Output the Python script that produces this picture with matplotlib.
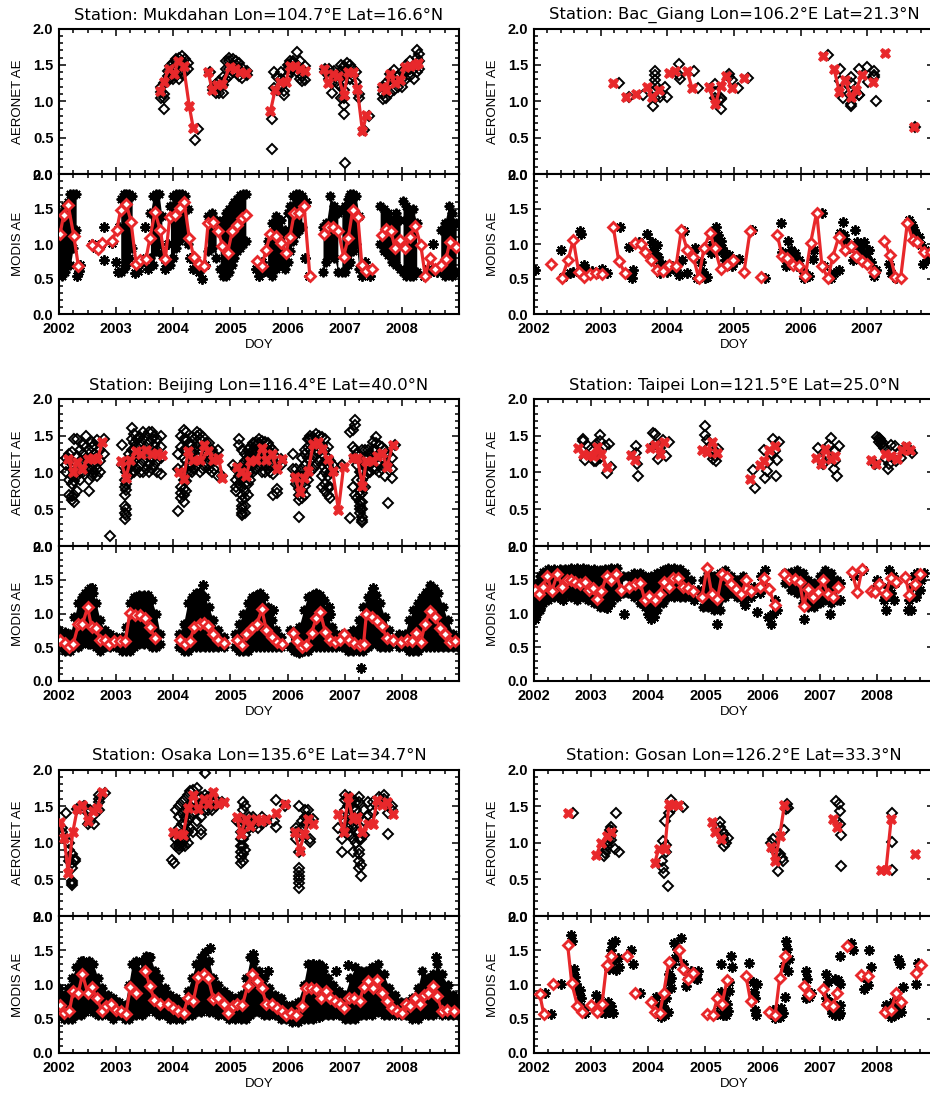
import numpy as np
import matplotlib
matplotlib.use("Agg")
import matplotlib.pyplot as plt
from matplotlib.ticker import MultipleLocator, AutoMinorLocator, FormatStrFormatter

plt.rcParams['font.family'] = ['Liberation Sans', 'DejaVu Sans']

# ---------------------------------------------------------------- stations
STATIONS = ["Mukdahan", "Bac_Giang", "Beijing", "Taipei", "Osaka", "Gosan"]
LONS = [104.7, 106.2, 116.4, 121.5, 135.6, 126.2]
LATS = [16.6, 21.3, 40.0, 25.0, 34.7, 33.3]
XMAX = [2009, 2008, 2009, 2009, 2009, 2009]
YEAR_TICKS = [2002, 2003, 2004, 2005, 2006, 2007, 2008]
Y_TICKS = [0.0, 0.5, 1.0, 1.5, 2.0]

# ---------------------------------------------------------------- Mukdahan
MUK_AER_PTS = [
    (2003.78, [1.05, 1.13, 1.20]), (2003.84, [0.90, 1.05, 1.10, 1.25]), (2003.90, [1.28, 1.35, 1.42]),
    (2003.95, [1.32, 1.40, 1.48]), (2004.00, [1.30, 1.38, 1.46, 1.52]), (2004.05, [1.35, 1.45, 1.55, 1.58]),
    (2004.10, [1.30, 1.40, 1.50, 1.60]), (2004.15, [1.38, 1.48, 1.56, 1.62]), (2004.20, [1.40, 1.50, 1.58]),
    (2004.25, [1.45, 1.52]), (2004.38, [0.47]), (2004.43, [0.62]),
    (2004.65, [1.40]), (2004.70, [1.15, 1.20]), (2004.75, [1.12, 1.18, 1.24]), (2004.80, [1.12, 1.20, 1.28]),
    (2004.87, [1.11, 1.22, 1.34]), (2004.93, [1.30, 1.45, 1.55]), (2004.98, [1.35, 1.45, 1.55, 1.60]),
    (2005.04, [1.40, 1.50, 1.58]), (2005.10, [1.40, 1.50, 1.55]), (2005.15, [1.35, 1.45, 1.52]),
    (2005.21, [1.32, 1.40, 1.46]), (2005.29, [1.36, 1.42]),
    (2005.72, [0.34, 0.76]), (2005.77, [1.18, 1.40]), (2005.82, [1.16, 1.33]), (2005.88, [1.20, 1.30, 1.40]),
    (2005.94, [1.08, 1.14, 1.25]), (2006.00, [1.35, 1.45, 1.50]), (2006.05, [1.40, 1.50, 1.55]),
    (2006.10, [1.45, 1.52, 1.56]), (2006.16, [1.40, 1.50, 1.68]), (2006.21, [1.30, 1.45, 1.55]),
    (2006.26, [1.28, 1.35, 1.45]), (2006.31, [1.29, 1.48]),
    (2006.65, [1.40, 1.45]), (2006.72, [1.30, 1.45]), (2006.77, [1.12, 1.25]), (2006.82, [1.35, 1.42]),
    (2006.88, [1.24, 1.36]), (2006.94, [1.05, 1.20, 1.32, 1.42, 1.50]),
    (2006.99, [0.82, 0.95, 1.05, 1.16, 1.27, 1.38, 1.48]), (2007.00, [0.15]), (2007.04, [1.36, 1.45, 1.52]),
    (2007.09, [1.30, 1.40, 1.50]), (2007.14, [1.35, 1.45]), (2007.19, [1.26, 1.40]), (2007.25, [1.05, 1.10]),
    (2007.33, [0.60]), (2007.42, [0.80]),
    (2007.67, [1.03, 1.10, 1.20]), (2007.72, [1.05, 1.25]), (2007.79, [1.12, 1.30, 1.38]),
    (2007.87, [1.15, 1.30, 1.43]), (2007.94, [1.20, 1.35]), (2008.01, [1.20, 1.30, 1.40]),
    (2008.08, [1.30, 1.40, 1.50]), (2008.15, [1.35, 1.45, 1.55]), (2008.21, [1.30, 1.45, 1.50]),
    (2008.26, [1.40, 1.60, 1.70]), (2008.30, [1.45, 1.55, 1.65]),
]
MUK_AER_MEAN = [
    [(2003.76, 1.14), (2003.83, 1.27), (2003.93, 1.45), (2004.01, 1.37), (2004.09, 1.55), (2004.18, 1.48),
     (2004.28, 0.93), (2004.35, 0.63)],
    [(2004.61, 1.40), (2004.68, 1.16), (2004.76, 1.23), (2004.86, 1.24), (2004.99, 1.47), (2005.08, 1.45),
     (2005.17, 1.40), (2005.28, 1.39)],
    [(2005.70, 0.86), (2005.78, 1.15), (2005.86, 1.27), (2005.97, 1.27), (2006.04, 1.48), (2006.13, 1.49),
     (2006.22, 1.44), (2006.31, 1.41)],
    [(2006.63, 1.45), (2006.71, 1.25), (2006.80, 1.38), (2006.89, 1.35), (2006.98, 1.08), (2007.06, 1.40),
     (2007.15, 1.40), (2007.22, 1.17), (2007.31, 0.59), (2007.38, 0.81)],
    [(2007.65, 1.19), (2007.72, 1.15), (2007.79, 1.37), (2007.88, 1.25), (2007.97, 1.29), (2008.06, 1.47),
     (2008.14, 1.48), (2008.23, 1.50), (2008.29, 1.52)],
]
MUK_MOD_BLOBS = [
    [(2002.00, 0.60, 1.40), (2002.05, 0.55, 1.45), (2002.10, 0.60, 1.55), (2002.15, 0.70, 1.60),
     (2002.20, 0.70, 1.72), (2002.25, 0.95, 1.72), (2002.30, 1.20, 1.72)],
    [(2003.08, 0.60, 1.65), (2003.13, 0.65, 1.72), (2003.18, 0.70, 1.72), (2003.23, 0.80, 1.72),
     (2003.28, 0.95, 1.68)],
    [(2003.60, 0.80, 1.45), (2003.65, 0.70, 1.68), (2003.70, 0.90, 1.72), (2003.75, 1.00, 1.72),
     (2003.80, 0.85, 1.40)],
    [(2003.95, 0.70, 1.55), (2004.00, 0.80, 1.68), (2004.05, 0.95, 1.72), (2004.10, 1.05, 1.72),
     (2004.15, 1.15, 1.72), (2004.20, 1.10, 1.68), (2004.25, 1.00, 1.50)],
    [(2004.60, 0.90, 1.40), (2004.68, 0.95, 1.45), (2004.75, 0.80, 1.35)],
    [(2004.82, 0.65, 1.25), (2004.87, 0.55, 1.35), (2004.92, 0.55, 1.45), (2004.97, 0.60, 1.50),
     (2005.02, 0.70, 1.55), (2005.07, 0.80, 1.60), (2005.12, 0.90, 1.65), (2005.17, 0.95, 1.70),
     (2005.22, 1.00, 1.72), (2005.27, 1.05, 1.72)],
    [(2005.65, 0.60, 1.05), (2005.72, 0.55, 1.30), (2005.80, 0.65, 1.40), (2005.88, 0.70, 1.35),
     (2005.95, 0.65, 1.20)],
    [(2006.00, 0.75, 1.45), (2006.05, 0.90, 1.55), (2006.10, 1.05, 1.68), (2006.15, 1.15, 1.72),
     (2006.20, 1.20, 1.72), (2006.25, 1.25, 1.68)],
    [(2006.62, 0.60, 1.25), (2006.68, 0.75, 1.30), (2006.75, 0.85, 1.68), (2006.82, 0.80, 1.55),
     (2006.88, 0.60, 1.45)],
    [(2006.95, 0.60, 1.50), (2007.00, 0.60, 1.55), (2007.05, 0.70, 1.65), (2007.10, 0.75, 1.72),
     (2007.15, 0.90, 1.72), (2007.20, 1.00, 1.68), (2007.25, 0.65, 1.40)],
    [(2007.62, 1.00, 1.55), (2007.68, 0.90, 1.50), (2007.75, 0.85, 1.45), (2007.82, 0.75, 1.35),
     (2007.90, 0.70, 1.45), (2007.97, 0.65, 1.35)],
    [(2008.02, 0.60, 1.62), (2008.08, 0.55, 1.55), (2008.14, 0.55, 1.45), (2008.20, 0.55, 1.50),
     (2008.26, 0.60, 1.30)],
    [(2008.68, 0.60, 1.20), (2008.75, 0.55, 1.30), (2008.82, 0.60, 1.55), (2008.88, 0.55, 1.45),
     (2008.95, 0.60, 1.30)],
]
MUK_MOD_PTS = [
    (2002.32, 0.55), (2002.35, 0.62), (2002.36, 0.70), (2002.57, 1.00), (2002.65, 0.95), (2002.73, 1.00),
    (2002.78, 0.77), (2002.79, 1.25), (2002.93, 1.02), (2003.00, 0.75), (2003.03, 0.60), (2003.05, 1.25),
    (2003.33, 0.58), (2003.38, 0.62), (2003.45, 0.75), (2003.50, 1.25), (2003.52, 0.80), (2003.55, 0.65),
    (2003.85, 0.65), (2003.88, 0.75), (2003.90, 1.00), (2004.30, 0.80), (2004.35, 0.65), (2004.40, 0.75),
    (2004.45, 0.60), (2004.50, 0.50), (2004.55, 0.70), (2005.45, 0.65), (2005.50, 0.55), (2005.55, 0.75),
    (2005.60, 0.62), (2006.30, 0.80), (2006.33, 1.60), (2006.38, 0.55), (2007.30, 0.55), (2007.35, 0.75),
    (2007.40, 0.60), (2007.45, 0.55), (2008.38, 0.55), (2008.45, 0.65), (2008.50, 0.60), (2008.55, 1.00),
    (2008.62, 0.60),
]
MUK_MOD_MEAN = [
    [(2002.02, 1.15), (2002.08, 1.41), (2002.16, 1.56), (2002.26, 1.11), (2002.34, 0.68)],
    [(2002.58, 0.99), (2002.68, 0.93), (2002.75, 1.01)],
    [(2002.93, 1.05), (2003.01, 1.20), (2003.08, 1.49), (2003.18, 1.57), (2003.26, 1.32), (2003.35, 0.71),
     (2003.42, 0.77), (2003.52, 0.78), (2003.59, 1.08), (2003.68, 1.46), (2003.77, 1.20), (2003.86, 0.78),
     (2003.94, 1.39), (2004.03, 1.42), (2004.12, 1.51), (2004.19, 1.60), (2004.28, 1.09), (2004.36, 0.81),
     (2004.45, 0.72), (2004.54, 0.68), (2004.61, 1.30), (2004.70, 1.31), (2004.79, 1.18), (2004.86, 0.97),
     (2004.95, 0.87), (2005.03, 1.18), (2005.12, 1.27), (2005.20, 1.37), (2005.28, 1.41)],
    [(2005.46, 0.76), (2005.55, 0.68), (2005.62, 0.91), (2005.70, 1.14), (2005.80, 1.11), (2005.88, 1.02),
     (2005.97, 0.87), (2006.04, 1.10), (2006.12, 1.45), (2006.20, 1.44), (2006.29, 1.54), (2006.39, 0.54)],
    [(2006.63, 1.15), (2006.70, 1.24), (2006.80, 1.24), (2006.89, 1.18), (2006.98, 0.82), (2007.06, 1.08),
     (2007.14, 1.49), (2007.23, 1.39), (2007.30, 0.70), (2007.38, 0.62), (2007.47, 0.64)],
    [(2007.65, 1.13), (2007.72, 1.22), (2007.81, 1.18), (2007.88, 0.94), (2007.97, 1.06), (2008.06, 0.95),
     (2008.14, 1.10), (2008.23, 1.26), (2008.33, 0.99), (2008.41, 0.54), (2008.49, 0.80), (2008.58, 0.64),
     (2008.68, 0.70), (2008.77, 0.78), (2008.84, 1.03), (2008.95, 0.96)],
]

# ---------------------------------------------------------------- Bac_Giang
BAC_AER_PTS = [
    (2003.28, [1.25]), (2003.42, [1.06]), (2003.64, [1.09]), (2003.78, [0.93]),
    (2003.81, [1.42, 1.36, 1.29, 1.22, 1.15, 1.04]), (2003.89, [1.06]), (2003.96, [1.20]), (2003.99, [1.06]),
    (2004.17, [1.51, 1.36]), (2004.19, [1.31]), (2004.40, [1.41]), (2004.46, [1.18]),
    (2004.72, [1.24, 1.13, 1.05]), (2004.78, [1.02]), (2004.81, [0.89, 1.04, 1.03]), (2004.92, [1.38, 1.33]),
    (2004.97, [1.29]), (2005.06, [1.18]), (2005.21, [1.32]),
    (2006.41, [1.63]), (2006.59, [1.45, 1.28]), (2006.64, [1.04, 1.15]), (2006.76, [1.34, 0.93, 0.96, 1.25]),
    (2006.81, [1.11]), (2006.88, [1.45, 1.08, 1.09]), (2007.00, [1.47]), (2007.01, [1.27]),
    (2007.10, [1.36, 1.42, 1.33]), (2007.13, [1.01]), (2007.72, [0.64]),
]
BAC_AER_MEAN = [
    [(2003.19, 1.25)], [(2003.38, 1.06)], [(2003.53, 1.10)],
    [(2003.69, 1.19), (2003.77, 1.06), (2003.87, 1.15)],
    [(2004.03, 1.39), (2004.12, 1.41)], [(2004.30, 1.41), (2004.37, 1.18)],
    [(2004.62, 1.20), (2004.72, 0.96), (2004.80, 1.21), (2004.88, 1.35), (2004.97, 1.18)],
    [(2005.15, 1.32)], [(2006.33, 1.62)],
    [(2006.50, 1.45), (2006.58, 1.13), (2006.67, 1.29), (2006.75, 1.06), (2006.83, 1.16), (2006.92, 1.36)],
    [(2007.09, 1.27)], [(2007.26, 1.67)], [(2007.70, 0.64)],
]
BAC_MOD_BLOBS = []
BAC_MOD_PTS = [
    (2002.02, 0.63), (2002.41, 0.92), (2002.44, 0.53), (2002.54, 0.58), (2002.59, 0.60), (2002.69, 1.19),
    (2002.71, 1.15), (2002.75, 0.70), (2002.77, 0.63), (2002.87, 0.62), (2002.94, 0.58), (2003.02, 0.64),
    (2003.09, 0.59), (2003.29, 1.24), (2003.42, 0.96), (2003.44, 0.56), (2003.47, 0.51), (2003.49, 0.63),
    (2003.57, 1.03), (2003.69, 1.14), (2003.77, 1.03), (2003.79, 0.91), (2003.82, 0.87), (2003.84, 0.99),
    (2003.86, 0.82), (2003.88, 0.68), (2003.89, 0.58), (2003.92, 0.72), (2003.94, 0.63), (2003.99, 0.60),
    (2004.07, 0.68), (2004.13, 0.63), (2004.17, 0.56), (2004.22, 0.77), (2004.25, 1.19), (2004.30, 0.58),
    (2004.39, 0.89), (2004.42, 0.94), (2004.45, 0.51), (2004.50, 0.75), (2004.53, 0.60), (2004.56, 0.51),
    (2004.60, 0.53), (2004.65, 0.87), (2004.67, 0.99), (2004.70, 1.08), (2004.72, 1.01), (2004.73, 1.24),
    (2004.76, 1.13), (2004.77, 0.91), (2004.80, 1.04), (2004.82, 0.95), (2004.85, 0.87), (2004.87, 0.77),
    (2004.92, 0.84), (2004.97, 0.68), (2005.03, 0.77), (2005.07, 0.78), (2005.27, 1.20), (2005.46, 0.52),
    (2005.70, 1.30), (2005.72, 0.89), (2005.76, 0.80), (2005.78, 0.68), (2005.81, 1.05), (2005.85, 0.91),
    (2005.87, 0.82), (2005.92, 0.87), (2005.95, 0.68), (2005.97, 0.77), (2006.03, 0.63), (2006.05, 0.51),
    (2006.12, 0.54), (2006.18, 0.78), (2006.20, 0.91), (2006.32, 1.44), (2006.35, 0.68), (2006.45, 0.51),
    (2006.50, 0.58), (2006.57, 0.63), (2006.59, 1.16), (2006.63, 1.32), (2006.65, 1.13), (2006.68, 1.03),
    (2006.73, 0.94), (2006.78, 0.77), (2006.82, 1.20), (2006.85, 1.03), (2006.88, 0.89), (2006.90, 0.96),
    (2006.93, 0.84), (2006.95, 1.03), (2006.98, 0.82), (2007.00, 0.87), (2007.03, 0.91), (2007.05, 0.75),
    (2007.10, 0.54), (2007.13, 0.63), (2007.33, 0.72), (2007.35, 0.58), (2007.43, 0.52), (2007.63, 1.34),
    (2007.67, 1.27), (2007.70, 1.20), (2007.73, 1.13), (2007.78, 1.10), (2007.80, 0.99), (2007.83, 0.71),
    (2007.87, 0.91), (2007.90, 0.77), (2007.93, 0.87),
]
BAC_MOD_MEAN = [
    [(2002.26, 0.71)],
    [(2002.42, 0.52), (2002.51, 0.77), (2002.59, 1.06), (2002.67, 0.60), (2002.75, 0.53), (2002.84, 0.57),
     (2002.93, 0.58), (2003.02, 0.57)],
    [(2003.19, 1.24), (2003.27, 0.76), (2003.36, 0.59)],
    [(2003.52, 1.01), (2003.60, 1.00), (2003.67, 0.89), (2003.75, 0.77), (2003.84, 0.63), (2003.94, 0.62),
     (2004.03, 0.70), (2004.13, 0.68), (2004.21, 1.20), (2004.30, 0.91), (2004.39, 0.81), (2004.47, 0.52),
     (2004.55, 0.94), (2004.64, 1.16), (2004.71, 0.94), (2004.80, 0.64), (2004.90, 0.70), (2004.98, 0.77)],
    [(2005.15, 0.60), (2005.24, 1.18)],
    [(2005.40, 0.53)],
    [(2005.65, 1.13), (2005.72, 0.83), (2005.80, 0.80), (2005.89, 0.70), (2005.97, 0.68), (2006.07, 0.54),
     (2006.15, 1.02), (2006.24, 1.45), (2006.32, 0.68), (2006.41, 0.51), (2006.48, 0.81), (2006.57, 1.10),
     (2006.66, 0.91), (2006.75, 0.97), (2006.83, 0.83), (2006.92, 0.76), (2007.00, 0.72), (2007.10, 0.60)],
    [(2007.25, 1.05), (2007.34, 0.84), (2007.42, 0.53), (2007.50, 0.52), (2007.60, 1.30), (2007.68, 1.06),
     (2007.75, 1.03), (2007.85, 0.88), (2007.95, 0.88)],
]

# ---------------------------------------------------------------- Beijing
BEI_AER_PTS = [
    (2002.12, [1.00, 1.10, 1.20]), (2002.18, [0.70, 0.90, 1.15, 1.25]),
    (2002.22, [0.62, 0.68, 0.85, 0.95, 1.05, 1.28]), (2002.27, [0.60, 0.70, 0.88, 1.00, 1.10, 1.46]),
    (2002.32, [0.75, 0.95, 1.05, 1.22, 1.45]), (2002.37, [0.90, 1.00, 1.15, 1.30]),
    (2002.42, [1.00, 1.10, 1.25, 1.38]), (2002.47, [1.05, 1.20, 1.35, 1.49]),
    (2002.52, [0.75, 0.90, 1.05, 1.15, 1.30]), (2002.57, [0.95, 1.05, 1.20, 1.35, 1.42]),
    (2002.62, [1.00, 1.12, 1.25, 1.38]), (2002.67, [0.95, 1.05, 1.22, 1.44]), (2002.72, [1.00, 1.15, 1.30]),
    (2002.78, [1.25, 1.45]), (2002.90, [0.13]),
    (2003.10, [1.10, 1.38]), (2003.15, [0.37, 0.45, 0.55, 0.70, 0.80, 0.90]),
    (2003.18, [0.42, 0.50, 0.76, 0.85, 1.00, 1.10]), (2003.22, [0.95, 1.05, 1.15, 1.25]),
    (2003.27, [1.00, 1.10, 1.20, 1.30, 1.45, 1.60]), (2003.32, [1.00, 1.15, 1.30, 1.40, 1.52]),
    (2003.37, [1.05, 1.20, 1.35, 1.45]), (2003.42, [1.00, 1.10, 1.25, 1.40, 1.48]),
    (2003.47, [1.00, 1.15, 1.30, 1.45, 1.55]), (2003.52, [1.05, 1.20, 1.35, 1.50]),
    (2003.57, [1.00, 1.12, 1.25, 1.40, 1.55]), (2003.62, [1.05, 1.18, 1.30, 1.45, 1.55]),
    (2003.67, [1.10, 1.25, 1.38, 1.50]), (2003.72, [1.00, 1.15, 1.30, 1.45]), (2003.78, [0.98, 1.20, 1.35, 1.50]),
    (2004.08, [0.48, 1.05, 1.25]), (2004.14, [0.65, 0.72, 0.80, 1.35, 1.50]),
    (2004.18, [0.60, 0.70, 0.78, 0.90, 1.05, 1.20, 1.30, 1.45, 1.58]),
    (2004.22, [0.75, 0.88, 1.00, 1.15, 1.30, 1.45, 1.55]), (2004.27, [1.00, 1.12, 1.25, 1.40]),
    (2004.32, [1.00, 1.10, 1.25, 1.38, 1.48]), (2004.37, [1.05, 1.15, 1.30, 1.45]),
    (2004.42, [1.10, 1.22, 1.35, 1.50, 1.55]), (2004.47, [1.00, 1.15, 1.30, 1.45, 1.52]),
    (2004.52, [1.05, 1.20, 1.35, 1.48]), (2004.57, [1.10, 1.25, 1.40]), (2004.62, [1.05, 1.15, 1.30, 1.40]),
    (2004.67, [1.00, 1.20, 1.30]), (2004.72, [1.05, 1.15, 1.25]), (2004.78, [0.95, 1.30]), (2004.85, [0.95]),
    (2005.05, [1.10]), (2005.10, [0.75, 0.80, 0.90, 1.05]), (2005.15, [0.85, 0.95, 1.38, 1.45]),
    (2005.20, [0.42, 0.45, 0.50, 0.55, 0.62, 0.70, 0.80, 0.90, 1.00, 1.10, 1.30]),
    (2005.25, [0.45, 0.55, 0.65, 0.75, 0.85, 0.95, 1.05, 1.15, 1.25]),
    (2005.30, [0.70, 0.85, 1.00, 1.10, 1.20, 1.30]), (2005.35, [0.90, 1.00, 1.15, 1.25, 1.35]),
    (2005.40, [1.00, 1.10, 1.20, 1.30, 1.40]), (2005.45, [1.05, 1.15, 1.25, 1.38, 1.42]),
    (2005.50, [1.10, 1.20, 1.30, 1.40, 1.45]), (2005.55, [1.00, 1.15, 1.25, 1.35, 1.43]),
    (2005.60, [1.00, 1.10, 1.20, 1.30, 1.42]), (2005.65, [1.05, 1.18, 1.30, 1.40]),
    (2005.70, [1.00, 1.10, 1.25, 1.35]), (2005.75, [0.70, 0.98, 1.15, 1.30]), (2005.82, [0.72, 0.78, 1.20]),
    (2005.88, [1.10, 1.18]),
    (2006.10, [1.05, 1.25]), (2006.15, [0.85, 0.95, 1.05]), (2006.20, [0.40, 0.62, 0.70, 0.78, 0.85, 0.95]),
    (2006.25, [0.65, 0.75, 0.85, 0.95, 1.05, 1.20]), (2006.30, [0.70, 0.82, 0.95, 1.10, 1.25, 1.30]),
    (2006.35, [0.90, 1.05, 1.20, 1.35, 1.45]), (2006.40, [1.00, 1.15, 1.30, 1.45, 1.50]),
    (2006.45, [1.05, 1.20, 1.35, 1.48]), (2006.50, [1.10, 1.25, 1.40, 1.53]), (2006.55, [1.15, 1.28, 1.40, 1.50]),
    (2006.60, [0.80, 0.95, 1.10, 1.25, 1.38, 1.48]), (2006.65, [0.75, 0.85, 1.00, 1.15, 1.30, 1.45]),
    (2006.70, [0.70, 0.80, 0.95, 1.10, 1.20, 1.35]), (2006.75, [0.65, 0.80, 1.00, 1.15]),
    (2006.80, [1.00, 1.10]), (2006.95, [1.10]),
    (2007.10, [0.38, 1.55]), (2007.14, [0.80, 1.35, 1.58]), (2007.18, [0.70, 1.20, 1.30, 1.65, 1.72]),
    (2007.22, [0.65, 0.90, 1.10, 1.25]), (2007.26, [0.45, 0.50, 0.55, 0.60, 0.70, 0.75, 1.00, 1.15]),
    (2007.30, [0.32, 0.35, 0.40, 0.50, 0.60, 0.72, 0.80, 0.90, 1.00, 1.15, 1.30]),
    (2007.35, [0.80, 0.95, 1.10, 1.20, 1.30]), (2007.40, [1.00, 1.10, 1.20, 1.30]),
    (2007.45, [1.00, 1.15, 1.25]), (2007.50, [1.05, 1.18, 1.30, 1.42]), (2007.55, [1.05, 1.20, 1.30, 1.40, 1.48]),
    (2007.60, [1.00, 1.12, 1.25, 1.38]), (2007.65, [1.05, 1.20, 1.35]), (2007.70, [0.95, 1.10, 1.25, 1.30]),
    (2007.76, [0.58, 1.10, 1.25]), (2007.82, [0.93, 1.05, 1.20]), (2007.88, [1.38]),
]
BEI_AER_MEAN = [
    [(2002.16, 1.18), (2002.24, 1.00), (2002.32, 1.14), (2002.41, 1.05), (2002.50, 1.18), (2002.59, 1.20),
     (2002.67, 1.18), (2002.76, 1.41)],
    [(2003.08, 1.16), (2003.17, 0.93), (2003.25, 1.17), (2003.35, 1.29), (2003.43, 1.25), (2003.53, 1.30),
     (2003.62, 1.25), (2003.71, 1.27), (2003.80, 1.24)],
    [(2004.10, 1.00), (2004.18, 0.91), (2004.26, 1.29), (2004.35, 1.17), (2004.46, 1.17), (2004.54, 1.38),
     (2004.61, 1.29), (2004.70, 1.17), (2004.79, 1.20), (2004.86, 0.93)],
    [(2005.11, 1.08), (2005.18, 1.00), (2005.27, 0.95), (2005.35, 1.16), (2005.45, 1.17), (2005.55, 1.34),
     (2005.63, 1.17), (2005.72, 1.25), (2005.81, 1.05), (2005.90, 1.18)],
    [(2006.13, 0.94), (2006.21, 0.73), (2006.29, 0.93), (2006.36, 1.02), (2006.45, 1.39), (2006.54, 1.41),
     (2006.61, 1.32), (2006.70, 1.18), (2006.79, 1.02), (2006.89, 0.49), (2006.98, 1.08)],
    [(2007.14, 1.20), (2007.22, 1.20), (2007.31, 0.82), (2007.38, 1.16), (2007.49, 1.16), (2007.57, 1.23),
     (2007.66, 1.26), (2007.74, 1.07), (2007.84, 1.38)],
]
BEI_MOD_BLOBS = [
    [(2002.00, 0.50, 0.75), (2002.10, 0.45, 0.72), (2002.20, 0.45, 0.70), (2002.27, 0.50, 0.95),
     (2002.33, 0.50, 1.15), (2002.40, 0.55, 1.25), (2002.45, 0.60, 1.30), (2002.50, 0.55, 1.35),
     (2002.55, 0.55, 1.38), (2002.60, 0.55, 1.30), (2002.65, 0.50, 1.15), (2002.72, 0.45, 0.90),
     (2002.80, 0.50, 0.75), (2002.90, 0.50, 0.70), (2003.00, 0.50, 0.65), (2003.10, 0.45, 0.65),
     (2003.18, 0.45, 0.80), (2003.25, 0.45, 1.15), (2003.32, 0.50, 1.25), (2003.40, 0.55, 1.28),
     (2003.48, 0.55, 1.28), (2003.55, 0.55, 1.28), (2003.62, 0.50, 1.20), (2003.70, 0.50, 1.00),
     (2003.77, 0.55, 0.70)],
    [(2004.10, 0.50, 0.70), (2004.18, 0.45, 0.85), (2004.25, 0.45, 1.15), (2004.32, 0.50, 1.25),
     (2004.40, 0.50, 1.30), (2004.47, 0.50, 1.32), (2004.55, 0.50, 1.25), (2004.62, 0.50, 1.10),
     (2004.70, 0.50, 0.90), (2004.78, 0.50, 0.75), (2004.88, 0.50, 0.65)],
    [(2005.08, 0.50, 0.70), (2005.15, 0.45, 0.85), (2005.22, 0.45, 1.00), (2005.30, 0.45, 1.15),
     (2005.38, 0.50, 1.25), (2005.45, 0.50, 1.28), (2005.52, 0.50, 1.30), (2005.58, 0.50, 1.25),
     (2005.65, 0.50, 1.10), (2005.72, 0.50, 0.90), (2005.80, 0.50, 0.75), (2005.88, 0.50, 0.65)],
    [(2006.05, 0.50, 0.75), (2006.12, 0.45, 0.70), (2006.20, 0.42, 0.80), (2006.28, 0.45, 1.05),
     (2006.35, 0.45, 1.25), (2006.42, 0.50, 1.28), (2006.50, 0.50, 1.30), (2006.57, 0.50, 1.28),
     (2006.63, 0.50, 1.20), (2006.70, 0.50, 0.95), (2006.78, 0.50, 0.80), (2006.85, 0.50, 0.70),
     (2006.95, 0.50, 0.70), (2007.05, 0.45, 0.70), (2007.15, 0.45, 0.75), (2007.25, 0.45, 0.90),
     (2007.32, 0.45, 1.10), (2007.40, 0.50, 1.25), (2007.47, 0.55, 1.32), (2007.55, 0.55, 1.28),
     (2007.62, 0.50, 1.15), (2007.70, 0.50, 0.95), (2007.78, 0.50, 0.75)],
    [(2007.95, 0.50, 0.70), (2008.05, 0.50, 0.70), (2008.12, 0.45, 0.90), (2008.20, 0.45, 1.05),
     (2008.28, 0.45, 1.15), (2008.35, 0.50, 1.25), (2008.42, 0.50, 1.32), (2008.50, 0.50, 1.42),
     (2008.57, 0.50, 1.38), (2008.64, 0.50, 1.30), (2008.72, 0.50, 1.10), (2008.80, 0.50, 0.90),
     (2008.90, 0.50, 0.70), (2008.98, 0.50, 0.65)],
]
BEI_MOD_PTS = [(2004.52, 1.42), (2005.68, 1.00), (2005.75, 1.05), (2006.75, 1.00), (2006.72, 1.10),
               (2007.29, 0.20), (2002.58, 1.38), (2007.50, 1.38)]
BEI_MOD_MEAN = [
    [(2002.02, 0.61), (2002.11, 0.56), (2002.18, 0.50), (2002.25, 0.55), (2002.34, 0.84), (2002.41, 0.84),
     (2002.50, 1.09), (2002.57, 0.80), (2002.65, 0.78), (2002.72, 0.61), (2002.81, 0.61), (2002.88, 0.55),
     (2002.96, 0.59), (2003.06, 0.59), (2003.16, 0.59), (2003.24, 1.01), (2003.33, 0.98), (2003.41, 0.98),
     (2003.51, 0.93), (2003.59, 0.80), (2003.68, 0.63)],
    [(2004.12, 0.61), (2004.21, 0.55), (2004.29, 0.60), (2004.37, 0.80), (2004.46, 0.84), (2004.54, 0.86),
     (2004.61, 0.81), (2004.70, 0.70), (2004.79, 0.61), (2004.88, 0.56)],
    [(2005.11, 0.61), (2005.20, 0.53), (2005.28, 0.70), (2005.37, 0.79), (2005.46, 0.84), (2005.55, 1.06),
     (2005.63, 0.75), (2005.72, 0.65), (2005.81, 0.58), (2005.90, 0.55)],
    [(2006.09, 0.71), (2006.16, 0.60), (2006.25, 0.51), (2006.33, 0.53), (2006.42, 0.71), (2006.50, 0.93),
     (2006.57, 1.02), (2006.66, 0.73), (2006.74, 0.61), (2006.83, 0.58), (2006.92, 0.61), (2006.99, 0.70),
     (2007.08, 0.61), (2007.17, 0.56), (2007.26, 0.53), (2007.33, 0.55), (2007.38, 1.00), (2007.47, 0.95),
     (2007.56, 0.89), (2007.65, 0.81), (2007.74, 0.63), (2007.84, 0.61)],
    [(2007.99, 0.58), (2008.09, 0.61), (2008.17, 0.59), (2008.25, 0.71), (2008.33, 0.58), (2008.41, 0.85),
     (2008.49, 1.04), (2008.58, 0.95), (2008.67, 0.78), (2008.76, 0.70), (2008.84, 0.58), (2008.93, 0.59)],
]

# ---------------------------------------------------------------- Taipei
TAI_AER_PTS = [
    (2002.86, [1.46, 1.43]), (2002.90, [1.17]), (2002.94, [1.36]), (2003.00, [1.32]), (2003.05, [1.15]),
    (2003.09, [1.39, 1.16]), (2003.16, [1.51, 1.43, 1.20]), (2003.24, [1.36]), (2003.28, [0.99]),
    (2003.31, [1.39]), (2003.35, [1.08]),
    (2003.79, [1.36, 1.27]), (2003.80, [1.11]), (2003.82, [0.95]),
    (2004.08, [1.54]), (2004.12, [1.52, 1.39]), (2004.17, [1.18]), (2004.20, [1.34]), (2004.26, [1.44]),
    (2004.31, [1.23]), (2004.36, [1.42]),
    (2005.00, [1.63, 1.51]), (2005.03, [1.44]), (2005.07, [1.35]), (2005.10, [1.26]), (2005.13, [1.18]),
    (2005.16, [1.23, 1.29]), (2005.19, [1.15]), (2005.22, [1.32]),
    (2005.83, [1.03]), (2005.86, [0.79]), (2006.02, [1.30]), (2006.05, [0.92]), (2006.08, [1.02]),
    (2006.12, [1.16]), (2006.15, [1.25]), (2006.18, [1.46]), (2006.22, [1.29]), (2006.24, [0.95]),
    (2006.26, [1.17]), (2006.28, [1.42]),
    (2006.97, [1.33]), (2007.03, [1.20]), (2007.06, [1.11]), (2007.13, [1.23]), (2007.16, [1.38]),
    (2007.20, [1.47]), (2007.25, [1.05]), (2007.27, [1.16, 1.29]), (2007.30, [0.95]), (2007.33, [1.36]),
    (2007.96, [1.12]), (2008.01, [1.48]), (2008.03, [1.47, 1.42]), (2008.05, [1.45]), (2008.08, [1.39, 1.43]),
    (2008.10, [1.40, 1.36]), (2008.13, [1.33]), (2008.16, [1.18]), (2008.19, [1.05]), (2008.22, [1.11]),
    (2008.25, [1.38]), (2008.31, [1.36]), (2008.33, [1.16]), (2008.37, [1.25]), (2008.43, [1.20]),
    (2008.49, [1.33]), (2008.58, [1.30]), (2008.61, [1.27]),
]
TAI_AER_MEAN = [
    [(2002.77, 1.33), (2002.86, 1.25), (2002.96, 1.24), (2003.03, 1.23), (2003.11, 1.35), (2003.18, 1.25),
     (2003.27, 1.08)],
    [(2003.69, 1.24), (2003.77, 1.17)],
    [(2004.03, 1.33), (2004.11, 1.38), (2004.20, 1.25), (2004.27, 1.42)],
    [(2004.94, 1.30), (2005.03, 1.28), (2005.11, 1.42), (2005.21, 1.27)],
    [(2005.78, 0.91)],
    [(2005.95, 1.10), (2006.03, 1.16), (2006.12, 1.30), (2006.22, 1.36)],
    [(2006.94, 1.20), (2007.03, 1.11), (2007.10, 1.32), (2007.19, 1.18), (2007.27, 1.23)],
    [(2007.89, 1.17), (2007.99, 1.11)],
    [(2008.15, 1.25), (2008.25, 1.23), (2008.35, 1.19), (2008.44, 1.30), (2008.51, 1.36), (2008.58, 1.30)],
]
TAI_MOD_BLOBS = [
    [(2002.00, 1.05, 1.40), (2002.05, 1.00, 1.45), (2002.10, 1.05, 1.55), (2002.15, 1.15, 1.62),
     (2002.25, 1.20, 1.66), (2002.35, 1.25, 1.66), (2002.45, 1.25, 1.66), (2002.55, 1.30, 1.66),
     (2002.65, 1.25, 1.68), (2002.75, 1.20, 1.68), (2002.85, 1.25, 1.68), (2002.95, 1.20, 1.66),
     (2003.05, 1.15, 1.66), (2003.15, 1.10, 1.64), (2003.25, 1.10, 1.66), (2003.35, 1.15, 1.68),
     (2003.45, 1.25, 1.68), (2003.55, 1.30, 1.55)],
    [(2003.65, 1.30, 1.55), (2003.75, 1.25, 1.60), (2003.85, 1.15, 1.60), (2003.95, 1.10, 1.55),
     (2004.05, 1.05, 1.55), (2004.15, 1.05, 1.60), (2004.25, 1.15, 1.64), (2004.35, 1.25, 1.68),
     (2004.45, 1.25, 1.68), (2004.55, 1.25, 1.66), (2004.65, 1.25, 1.60), (2004.75, 1.25, 1.50)],
    [(2004.95, 1.10, 1.50), (2005.05, 1.10, 1.60), (2005.15, 1.05, 1.55), (2005.25, 1.05, 1.60),
     (2005.35, 1.25, 1.65), (2005.45, 1.30, 1.55), (2005.55, 1.25, 1.50), (2005.65, 1.20, 1.55)],
    [(2006.40, 1.45, 1.60), (2006.50, 1.35, 1.62), (2006.60, 1.30, 1.65), (2006.70, 1.15, 1.60),
     (2006.80, 1.10, 1.50), (2006.90, 1.10, 1.45), (2007.00, 1.15, 1.55), (2007.10, 1.20, 1.65),
     (2007.20, 1.15, 1.60), (2007.30, 1.20, 1.50)],
]
TAI_MOD_PTS = [
    (2002.01, 0.92), (2002.10, 1.08), (2002.42, 1.25), (2002.50, 1.20), (2003.28, 1.08), (2003.58, 1.00),
    (2004.00, 1.00), (2004.05, 0.92), (2004.10, 0.95), (2003.90, 1.22), (2004.80, 1.20), (2004.87, 1.35),
    (2005.20, 0.85), (2005.70, 1.12), (2005.80, 1.25), (2005.85, 1.40), (2005.90, 1.02), (2005.95, 1.30),
    (2006.05, 1.40), (2006.10, 0.95), (2006.15, 0.85), (2006.18, 1.00), (2006.22, 1.20), (2006.25, 1.05),
    (2006.05, 1.65), (2005.97, 1.55), (2006.72, 0.92), (2007.18, 1.00), (2007.35, 1.20), (2007.35, 1.45),
    (2007.60, 1.55), (2007.75, 1.65), (2007.93, 1.35), (2008.00, 1.50), (2008.12, 1.20), (2008.16, 1.05),
    (2008.20, 1.40), (2008.22, 1.65), (2008.28, 1.55), (2008.25, 1.30), (2008.32, 1.45), (2008.55, 1.05),
    (2008.60, 1.05), (2008.62, 1.40), (2008.65, 1.55), (2008.70, 1.60), (2008.75, 1.35), (2008.78, 1.50),
    (2008.82, 1.60), (2008.57, 1.20), (2008.68, 1.25), (2008.15, 1.25), (2008.30, 1.20),
]
TAI_MOD_MEAN = [
    [(2002.01, 1.35), (2002.08, 1.29), (2002.16, 1.40), (2002.23, 1.56), (2002.31, 1.33), (2002.41, 1.59),
     (2002.49, 1.40), (2002.57, 1.49), (2002.64, 1.50), (2002.72, 1.46), (2002.80, 1.44), (2002.89, 1.46),
     (2002.96, 1.35), (2003.03, 1.38), (2003.11, 1.22), (2003.18, 1.33), (2003.27, 1.56), (2003.35, 1.49),
     (2003.44, 1.59), (2003.52, 1.35)],
    [(2003.67, 1.39), (2003.76, 1.44), (2003.86, 1.45), (2003.94, 1.20), (2004.02, 1.26), (2004.11, 1.20),
     (2004.20, 1.29), (2004.27, 1.46), (2004.36, 1.39), (2004.43, 1.53), (2004.52, 1.53), (2004.61, 1.39),
     (2004.69, 1.38), (2004.78, 1.34)],
    [(2004.94, 1.25), (2005.03, 1.68), (2005.11, 1.29), (2005.21, 1.22), (2005.29, 1.58), (2005.38, 1.54),
     (2005.45, 1.44), (2005.54, 1.36), (2005.63, 1.29), (2005.71, 1.49), (2005.79, 1.34)],
    [(2005.95, 1.40), (2006.03, 1.52), (2006.12, 1.36), (2006.21, 1.12)],
    [(2006.38, 1.59), (2006.47, 1.51), (2006.56, 1.51), (2006.65, 1.46), (2006.72, 1.11), (2006.79, 1.36),
     (2006.88, 1.25), (2006.97, 1.32), (2007.06, 1.49), (2007.14, 1.29), (2007.23, 1.24), (2007.32, 1.40)],
    [(2007.56, 1.61), (2007.66, 1.32), (2007.74, 1.66)],
    [(2007.89, 1.34), (2007.96, 1.32), (2008.03, 1.43)],
    [(2008.16, 1.29), (2008.24, 1.53), (2008.34, 1.46)],
    [(2008.50, 1.54), (2008.57, 1.27), (2008.66, 1.44), (2008.75, 1.59)],
]

# ---------------------------------------------------------------- Osaka
OSA_AER_PTS = [
    (2002.05, [1.20, 1.15]), (2002.12, [1.40]), (2002.18, [0.75, 0.80, 0.90, 1.00]),
    (2002.22, [0.42, 0.45, 0.48, 0.65, 0.72, 0.85]), (2002.28, [0.75, 0.78]), (2002.32, [1.46]),
    (2002.43, [1.50]), (2002.50, [1.25, 1.40, 1.45]), (2002.55, [1.28, 1.45]), (2002.62, [1.25, 1.38]),
    (2002.70, [1.45, 1.55, 1.60, 1.65]), (2002.80, [1.68]),
    (2003.98, [0.76]), (2004.02, [0.73]), (2004.05, [0.95, 1.05, 1.45]),
    (2004.10, [0.92, 0.95, 1.00, 1.10, 1.20, 1.35, 1.50]), (2004.15, [0.95, 1.00, 1.05, 1.12, 1.25, 1.40, 1.55]),
    (2004.20, [0.95, 1.05, 1.15, 1.25, 1.35, 1.45, 1.60]), (2004.25, [1.00, 1.15, 1.30, 1.45, 1.65]),
    (2004.30, [1.20, 1.35, 1.50, 1.70]), (2004.35, [1.15, 1.40, 1.55, 1.72]), (2004.42, [1.30, 1.50, 1.62, 1.75]),
    (2004.48, [1.12, 1.18, 1.35, 1.50, 1.62]), (2004.55, [1.45, 1.55, 1.65, 1.95]), (2004.60, [1.45, 1.55, 1.62]),
    (2004.68, [1.45, 1.55, 1.65]), (2004.75, [1.50, 1.58]), (2004.85, [1.55]),
    (2005.12, [1.30]), (2005.18, [0.72, 0.80, 0.88, 0.95, 1.05, 1.15, 1.25]),
    (2005.22, [0.75, 0.85, 0.95, 1.05, 1.30, 1.45, 1.55]), (2005.26, [0.90, 1.10, 1.30, 1.50]),
    (2005.32, [1.20, 1.30, 1.35]), (2005.40, [1.22, 1.30, 1.35]), (2005.48, [1.20, 1.30]), (2005.55, [1.25, 1.35]),
    (2005.62, [1.30]), (2005.76, [1.30]), (2005.80, [1.22, 1.58]), (2005.96, [1.50]),
    (2006.15, [1.15, 1.20, 1.05]), (2006.20, [0.38, 0.45, 0.50, 0.55, 0.60, 0.65, 0.87, 1.50]),
    (2006.25, [1.10, 1.20, 1.30]), (2006.30, [1.25, 1.35, 1.45]), (2006.35, [1.35, 1.45]),
    (2006.40, [1.30, 1.05, 1.01]), (2006.45, [1.32]),
    (2006.88, [1.20]), (2006.95, [0.88, 1.05]), (2007.00, [1.15, 1.30, 1.45, 1.58, 1.65]),
    (2007.05, [1.20, 1.35, 1.50, 1.60]), (2007.10, [1.10, 1.25, 1.40, 1.55, 1.62]),
    (2007.15, [0.88, 1.05, 1.20, 1.35, 1.48, 1.58]), (2007.20, [1.00, 1.15, 1.30, 1.45, 1.55]),
    (2007.25, [0.65, 0.75, 0.85, 0.90, 1.05, 1.15, 1.35, 1.55, 1.62]), (2007.28, [0.55, 0.70, 1.05]),
    (2007.33, [1.10, 1.30, 1.45]), (2007.40, [1.38, 1.55]), (2007.50, [1.40, 1.55]), (2007.60, [1.55, 1.62]),
    (2007.68, [1.65, 1.60]), (2007.75, [1.12, 1.40, 1.50]), (2007.82, [1.50, 1.45]),
]
OSA_AER_MEAN = [
    [(2002.02, 1.28), (2002.09, 1.07), (2002.16, 0.59), (2002.24, 1.14), (2002.32, 1.46), (2002.41, 1.51),
     (2002.50, 1.30), (2002.59, 1.43), (2002.67, 1.48), (2002.75, 1.69)],
    [(2004.00, 1.14), (2004.09, 1.12), (2004.17, 1.10), (2004.26, 1.48), (2004.35, 1.65), (2004.44, 1.46),
     (2004.53, 1.60), (2004.61, 1.53), (2004.70, 1.69), (2004.79, 1.53), (2004.88, 1.55)],
    [(2005.11, 1.35), (2005.18, 1.12), (2005.27, 1.32), (2005.35, 1.23), (2005.45, 1.32), (2005.53, 1.30),
     (2005.62, 1.32)],
    [(2005.80, 1.41)], [(2005.96, 1.53)],
    [(2006.13, 1.14), (2006.21, 0.89), (2006.29, 1.12), (2006.36, 1.32), (2006.45, 1.25)],
    [(2006.89, 1.39), (2006.98, 1.14), (2007.06, 1.63), (2007.14, 1.32), (2007.22, 1.35), (2007.31, 1.14),
     (2007.40, 1.26), (2007.49, 1.25), (2007.57, 1.59), (2007.66, 1.51), (2007.74, 1.55), (2007.84, 1.39)],
]
OSA_MOD_BLOBS = [
    [(2002.00, 0.55, 0.95), (2002.08, 0.50, 0.85), (2002.15, 0.50, 0.95), (2002.22, 0.50, 1.10),
     (2002.30, 0.55, 1.25), (2002.38, 0.55, 1.35), (2002.45, 0.60, 1.30), (2002.52, 0.65, 1.35),
     (2002.60, 0.60, 1.30), (2002.68, 0.55, 1.10), (2002.75, 0.55, 0.95), (2002.85, 0.55, 0.85),
     (2002.95, 0.50, 0.80), (2003.05, 0.55, 0.75), (2003.15, 0.50, 0.70), (2003.22, 0.50, 1.00),
     (2003.28, 0.55, 1.30), (2003.35, 0.55, 1.35), (2003.45, 0.55, 1.20), (2003.52, 0.60, 1.42),
     (2003.60, 0.65, 1.40), (2003.68, 0.60, 1.20), (2003.75, 0.55, 1.10), (2003.85, 0.55, 0.95),
     (2003.95, 0.50, 0.85), (2004.05, 0.50, 0.80), (2004.15, 0.50, 0.75), (2004.25, 0.55, 0.90),
     (2004.32, 0.55, 1.10), (2004.40, 0.60, 1.30), (2004.48, 0.60, 1.40), (2004.55, 0.65, 1.48),
     (2004.62, 0.60, 1.35), (2004.70, 0.60, 1.10), (2004.78, 0.55, 1.00), (2004.88, 0.55, 0.90),
     (2004.98, 0.50, 0.85), (2005.08, 0.50, 0.80), (2005.18, 0.50, 0.85), (2005.28, 0.50, 1.10),
     (2005.35, 0.55, 1.40), (2005.42, 0.60, 1.35), (2005.50, 0.60, 1.20), (2005.58, 0.55, 1.10),
     (2005.68, 0.55, 0.95), (2005.78, 0.55, 0.85), (2005.88, 0.50, 0.80), (2005.98, 0.50, 0.70),
     (2006.08, 0.45, 0.70), (2006.18, 0.45, 0.75), (2006.28, 0.50, 1.00), (2006.35, 0.50, 1.30),
     (2006.45, 0.50, 1.30), (2006.55, 0.55, 1.30), (2006.62, 0.55, 1.20), (2006.70, 0.55, 1.10),
     (2006.80, 0.55, 1.00), (2006.90, 0.55, 0.90), (2007.00, 0.50, 0.85), (2007.10, 0.50, 1.10),
     (2007.18, 0.50, 1.25), (2007.28, 0.55, 1.20), (2007.38, 0.55, 1.20), (2007.48, 0.55, 1.25),
     (2007.58, 0.60, 1.30), (2007.68, 0.55, 1.15), (2007.78, 0.55, 0.95), (2007.88, 0.55, 0.85),
     (2007.98, 0.55, 0.75), (2008.08, 0.55, 0.75), (2008.18, 0.50, 0.80), (2008.28, 0.50, 0.95),
     (2008.35, 0.55, 1.20), (2008.45, 0.55, 1.10), (2008.55, 0.55, 1.15), (2008.62, 0.60, 1.30),
     (2008.70, 0.55, 1.15), (2008.80, 0.55, 1.00), (2008.90, 0.55, 0.85), (2008.98, 0.55, 0.80)],
]
OSA_MOD_PTS = [(2004.65, 1.53), (2003.57, 1.40), (2005.40, 1.45), (2006.45, 1.30), (2006.55, 0.52),
               (2007.05, 1.28), (2008.60, 1.40), (2003.45, 1.35), (2002.42, 1.35), (2005.65, 1.20),
               (2006.62, 1.25), (2006.85, 1.20)]
OSA_MOD_MEAN = [
    [(2002.02, 0.70), (2002.09, 0.59), (2002.18, 0.61), (2002.25, 0.91), (2002.34, 0.88), (2002.41, 1.15),
     (2002.50, 0.88), (2002.57, 0.96), (2002.66, 0.81), (2002.75, 0.61), (2002.82, 0.68), (2002.91, 0.72),
     (2003.00, 0.63), (2003.08, 0.61), (2003.17, 0.57), (2003.25, 0.96), (2003.35, 0.88)],
    [(2003.51, 1.20), (2003.59, 0.98), (2003.67, 0.77), (2003.76, 0.72)],
    [(2003.91, 0.71), (2004.00, 0.65), (2004.09, 0.61), (2004.18, 0.59), (2004.26, 0.81), (2004.35, 0.76),
     (2004.44, 1.11), (2004.53, 1.16), (2004.61, 1.10), (2004.70, 0.79), (2004.79, 0.80), (2004.88, 0.72),
     (2004.95, 0.59), (2005.04, 0.68), (2005.12, 0.72), (2005.21, 0.70), (2005.30, 0.98), (2005.38, 1.16),
     (2005.46, 1.05), (2005.55, 0.95), (2005.63, 0.71), (2005.72, 0.71), (2005.81, 0.66), (2005.90, 0.61),
     (2005.97, 0.55), (2006.06, 0.59), (2006.15, 0.56), (2006.25, 0.68), (2006.32, 0.95), (2006.41, 0.95),
     (2006.50, 0.94), (2006.58, 0.81), (2006.67, 0.91), (2006.74, 0.80), (2006.83, 0.76), (2006.92, 0.71),
     (2006.99, 0.66), (2007.08, 0.81), (2007.17, 0.80), (2007.26, 0.76), (2007.33, 0.96), (2007.41, 1.05),
     (2007.49, 0.95), (2007.57, 1.07), (2007.66, 0.88), (2007.74, 0.76), (2007.82, 0.66), (2007.91, 0.61),
     (2008.00, 0.59), (2008.07, 0.72), (2008.15, 0.68), (2008.23, 0.81), (2008.31, 0.72), (2008.39, 0.85),
     (2008.46, 0.88), (2008.55, 0.98), (2008.62, 0.83), (2008.70, 0.61), (2008.79, 0.63), (2008.91, 0.62)],
]

# ---------------------------------------------------------------- Gosan
GOS_AER_PTS = [
    (2002.68, [1.41]), (2003.22, [0.82]), (2003.24, [0.86]), (2003.26, [0.90, 0.98]), (2003.27, [0.95]),
    (2003.29, [1.02]), (2003.31, [1.12]), (2003.33, [1.18, 1.08]), (2003.34, [1.21, 1.04]), (2003.37, [1.16]),
    (2003.41, [0.91]), (2003.43, [1.40]), (2003.48, [0.87]),
    (2004.24, [0.75]), (2004.26, [0.66, 1.03]), (2004.27, [0.59]), (2004.29, [1.30]), (2004.31, [0.97, 0.88]),
    (2004.34, [0.41]), (2004.37, [1.41]), (2004.40, [1.59]), (2004.43, [1.48]), (2004.61, [1.49]),
    (2005.25, [1.28]), (2005.26, [1.21]), (2005.29, [1.16]), (2005.30, [1.07]), (2005.32, [0.95]),
    (2005.33, [1.12]), (2005.36, [1.00]), (2005.39, [1.07]),
    (2006.15, [1.00]), (2006.18, [1.05]), (2006.24, [0.88]), (2006.27, [0.62]), (2006.30, [0.84]),
    (2006.34, [0.79]), (2006.36, [0.75]), (2006.38, [1.18]), (2006.41, [1.46]), (2006.43, [1.53]),
    (2006.45, [1.48]),
    (2007.29, [1.57]), (2007.31, [1.30]), (2007.33, [1.53]), (2007.35, [1.43]), (2007.36, [1.25]),
    (2007.38, [1.11, 0.68]),
    (2008.26, [1.41, 1.01, 0.63]),
]
GOS_AER_MEAN = [
    [(2002.59, 1.41)],
    [(2003.09, 0.83), (2003.18, 1.00), (2003.27, 1.09), (2003.35, 1.14)],
    [(2004.11, 0.72), (2004.18, 0.91), (2004.29, 0.91), (2004.36, 1.53), (2004.43, 1.51), (2004.52, 1.51)],
    [(2005.11, 1.28), (2005.17, 1.14), (2005.28, 1.05)],
    [(2006.14, 0.94), (2006.22, 0.75), (2006.30, 1.09), (2006.38, 1.51)],
    [(2007.23, 1.32), (2007.31, 1.21)],
    [(2008.08, 0.63), (2008.16, 0.63), (2008.25, 1.32)],
    [(2008.66, 0.84)],
]
GOS_MOD_BLOBS = []
GOS_MOD_PTS = [
    (2002.20, 0.87), (2002.29, 0.57), (2002.48, 1.01), (2002.65, 1.72), (2002.66, 1.63), (2002.70, 1.22),
    (2002.71, 1.11), (2002.74, 1.01), (2002.77, 0.89), (2002.80, 0.92), (2002.83, 0.80), (2002.86, 0.65),
    (2002.89, 0.58),
    (2003.09, 0.84), (2003.12, 0.70), (2003.15, 0.77), (2003.18, 0.60), (2003.21, 0.67), (2003.24, 0.58),
    (2003.27, 0.65), (2003.29, 0.75), (2003.32, 1.22), (2003.34, 1.51), (2003.36, 1.61), (2003.38, 1.34),
    (2003.41, 1.63), (2003.44, 1.21), (2003.47, 1.39), (2003.49, 1.25), (2003.32, 0.60), (2003.35, 0.68),
    (2003.38, 0.58), (2003.70, 1.51), (2003.73, 1.30), (2003.85, 0.87),
    (2004.14, 0.82), (2004.17, 0.60), (2004.20, 0.70), (2004.23, 0.53), (2004.26, 0.68), (2004.29, 0.56),
    (2004.31, 0.80), (2004.34, 0.60), (2004.36, 1.04), (2004.37, 1.15), (2004.39, 0.95), (2004.40, 1.09),
    (2004.41, 1.30), (2004.45, 1.60), (2004.47, 1.39), (2004.51, 1.52), (2004.58, 1.68), (2004.61, 1.30),
    (2004.66, 0.98), (2004.69, 1.10), (2004.75, 1.20), (2004.80, 1.15), (2004.84, 1.10), (2004.87, 1.20),
    (2004.86, 1.08),
    (2005.21, 0.57), (2005.25, 0.70), (2005.28, 0.89), (2005.31, 0.56), (2005.32, 0.80), (2005.34, 0.65),
    (2005.36, 0.56), (2005.38, 0.72), (2005.41, 0.91), (2005.42, 1.03), (2005.28, 1.30), (2005.44, 1.41),
    (2005.47, 1.25), (2005.39, 0.62),
    (2005.77, 1.32), (2005.83, 1.03), (2005.85, 0.89), (2005.87, 0.80), (2005.86, 0.63), (2005.89, 0.56),
    (2005.91, 1.01),
    (2006.15, 0.58), (2006.18, 0.63), (2006.21, 0.51), (2006.24, 0.56), (2006.27, 0.60), (2006.30, 0.53),
    (2006.33, 0.65), (2006.36, 0.58), (2006.38, 1.27), (2006.40, 0.82), (2006.41, 1.63), (2006.43, 1.52),
    (2006.45, 1.20), (2006.47, 1.37),
    (2006.76, 1.19), (2006.78, 1.08), (2006.76, 0.80), (2006.82, 0.82), (2006.85, 0.87),
    (2007.11, 1.15), (2007.14, 1.04), (2007.11, 0.80), (2007.17, 0.75), (2007.20, 0.65), (2007.21, 0.58),
    (2007.25, 0.63), (2007.27, 0.56), (2007.29, 0.68), (2007.31, 0.60), (2007.33, 0.56), (2007.35, 0.70),
    (2007.36, 0.58), (2007.35, 1.42), (2007.36, 1.01), (2007.26, 1.08), (2007.32, 1.06),
    (2007.54, 1.60), (2007.58, 1.51),
    (2007.78, 0.93), (2007.81, 1.09), (2007.84, 1.00), (2007.87, 1.50), (2007.89, 1.25),
    (2008.19, 0.65), (2008.22, 0.58), (2008.25, 0.53), (2008.28, 0.60), (2008.31, 0.56), (2008.34, 0.65),
    (2008.37, 0.58), (2008.40, 0.68), (2008.43, 0.60), (2008.37, 1.37), (2008.40, 1.30), (2008.45, 0.96),
    (2008.16, 0.70), (2008.28, 0.75),
    (2008.69, 1.01), (2008.72, 1.32),
]
GOS_MOD_MEAN = [
    [(2002.10, 0.86), (2002.17, 0.57)], [(2002.33, 1.01)],
    [(2002.59, 1.57), (2002.66, 1.02), (2002.76, 0.69), (2002.84, 0.60)],
    [(2003.00, 0.70), (2003.11, 0.60), (2003.19, 0.71), (2003.27, 1.28), (2003.35, 1.42)],
    [(2003.62, 1.42)], [(2003.77, 0.87)],
    [(2004.04, 0.74), (2004.11, 0.60), (2004.20, 0.58), (2004.27, 0.88), (2004.36, 1.33)],
    [(2004.53, 1.51), (2004.61, 1.22), (2004.69, 1.08), (2004.78, 1.17)],
    [(2005.03, 0.57), (2005.13, 0.56), (2005.21, 0.80), (2005.29, 0.71), (2005.38, 1.07)],
    [(2005.71, 1.12), (2005.79, 0.76)],
    [(2006.12, 0.60), (2006.22, 0.55), (2006.30, 1.10), (2006.40, 1.42)],
    [(2006.72, 0.98), (2006.82, 0.86)],
    [(2007.06, 0.94), (2007.13, 0.72), (2007.23, 0.69), (2007.31, 0.87)],
    [(2007.48, 1.56)],
    [(2007.73, 1.14), (2007.84, 1.13)],
    [(2008.15, 0.60), (2008.25, 0.63), (2008.34, 0.88), (2008.43, 0.75)],
    [(2008.69, 1.17), (2008.78, 1.28)],
]

AER_PTS = [MUK_AER_PTS, BAC_AER_PTS, BEI_AER_PTS, TAI_AER_PTS, OSA_AER_PTS, GOS_AER_PTS]
AER_MEAN = [MUK_AER_MEAN, BAC_AER_MEAN, BEI_AER_MEAN, TAI_AER_MEAN, OSA_AER_MEAN, GOS_AER_MEAN]
MOD_BLOBS = [MUK_MOD_BLOBS, BAC_MOD_BLOBS, BEI_MOD_BLOBS, TAI_MOD_BLOBS, OSA_MOD_BLOBS, GOS_MOD_BLOBS]
MOD_PTS = [MUK_MOD_PTS, BAC_MOD_PTS, BEI_MOD_PTS, TAI_MOD_PTS, OSA_MOD_PTS, GOS_MOD_PTS]
MOD_MEAN = [MUK_MOD_MEAN, BAC_MOD_MEAN, BEI_MOD_MEAN, TAI_MOD_MEAN, OSA_MOD_MEAN, GOS_MOD_MEAN]

# ---------------------------------------------------------------- drawing
W, H = 930, 1095
RED = '#e8282b'
ASTER = (8, 2, 0)
COL_X0 = [59, 534]
AX_W = 400
AER_TOP = [28.5, 399, 769.5]
AER_BOT = [174, 546, 916]
MOD_BOT = [314, 681, 1053]

fig = plt.figure(figsize=(W / 100, H / 100), dpi=100)


def make_ax(x0, top, bot):
    return fig.add_axes([x0 / W, 1 - bot / H, AX_W / W, (bot - top) / H])


def style_ax(ax, xmax, nminor, show_x):
    ax.set_xlim(2002, xmax)
    ax.set_ylim(0, 2)
    ax.set_xticks([t for t in YEAR_TICKS if t < xmax])
    ax.xaxis.set_minor_locator(AutoMinorLocator(nminor))
    ax.set_yticks(Y_TICKS)
    ax.yaxis.set_minor_locator(MultipleLocator(0.1))
    ax.yaxis.set_major_formatter(FormatStrFormatter('%.1f'))
    ax.tick_params(which='both', direction='in', top=True, right=True, width=1.1, color='black')
    ax.tick_params(which='major', length=5)
    ax.tick_params(which='minor', length=2.6)
    ax.tick_params(axis='y', labelsize=10.5, pad=4.0)
    ax.tick_params(axis='x', labelsize=10.5, pad=5.5, labelbottom=show_x)
    for lab in ax.get_xticklabels() + ax.get_yticklabels():
        lab.set_fontweight('bold')
    for sp in ax.spines.values():
        sp.set_linewidth(1.5)


def flat_groups(groups):
    xs, ys = [], []
    for x, vals in groups:
        for v in vals:
            xs.append(x)
            ys.append(v)
    return xs, ys


for i, name in enumerate(STATIONS):
    r, c = divmod(i, 2)
    x0 = COL_X0[c]
    nminor = 5 if XMAX[i] == 2008 else 4
    ax1 = make_ax(x0, AER_TOP[r], AER_BOT[r])
    ax2 = make_ax(x0, AER_BOT[r], MOD_BOT[r])

    # AERONET panel
    xs, ys = flat_groups(AER_PTS[i])
    ax1.plot(xs, ys, ls='none', marker='D', ms=4.6, mfc='none', mec='black', mew=1.4, zorder=3)
    for seg in AER_MEAN[i]:
        sx, sy = zip(*seg)
        ax1.plot(sx, sy, color=RED, lw=2.3, marker='X', ms=7.5, mfc=RED, mec=RED, mew=0.6, zorder=5)
    style_ax(ax1, XMAX[i], nminor, False)
    ax1.set_ylabel('AERONET AE', fontsize=9.5)
    ax1.yaxis.set_label_coords(-41 / AX_W, 0.5)
    ax1.yaxis.label.set_va('center')

    # MODIS panel
    for blob in MOD_BLOBS[i]:
        bx, lo, hi = zip(*blob)
        ax2.fill_between(bx, lo, hi, color='black', lw=0, zorder=2)
        ax2.plot(list(bx) + list(bx), list(lo) + list(hi), ls='none', marker=ASTER, ms=7,
                 mec='black', mew=1.4, zorder=2)
    if MOD_PTS[i]:
        px, py = zip(*MOD_PTS[i])
        ax2.plot(px, py, ls='none', marker=ASTER, ms=7.5, mec='black', mew=1.4, zorder=3)
    for seg in MOD_MEAN[i]:
        sx, sy = zip(*seg)
        ax2.plot(sx, sy, color=RED, lw=2.3, marker='D', ms=5, mfc='white', mec=RED, mew=2.0, zorder=5)
    style_ax(ax2, XMAX[i], nminor, True)
    ax2.set_ylabel('MODIS AE', fontsize=9.5)
    ax2.yaxis.set_label_coords(-41 / AX_W, 0.5)
    ax2.yaxis.label.set_va('center')
    ax2.set_xlabel('DOY', fontsize=9.5)
    mod_h = MOD_BOT[r] - AER_BOT[r]
    ax2.xaxis.set_label_coords(0.5, -31 / mod_h)
    ax2.xaxis.label.set_va('center')

    title = f"Station: {name} Lon={LONS[i]:.1f}\u00b0E Lat={LATS[i]:.1f}\u00b0N"
    fig.text((x0 + AX_W / 2) / W, 1 - (AER_TOP[r] - 13.5) / H, title, ha='center', va='center',
             fontsize=11.8, family=['DejaVu Sans'])

fig.savefig('out.png', dpi=100)
